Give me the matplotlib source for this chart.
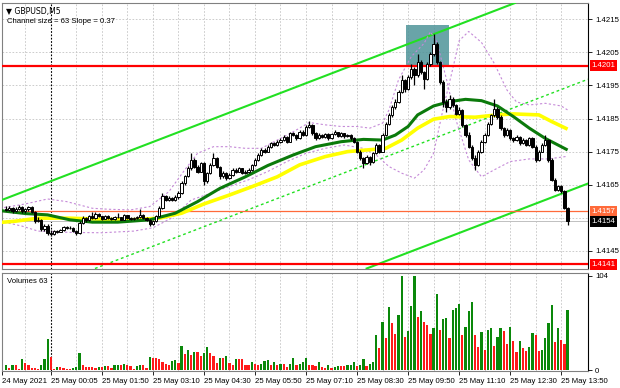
import numpy as np
import matplotlib
matplotlib.use('Agg')
import matplotlib.pyplot as plt
import matplotlib.transforms as mtransforms

plt.rcParams['font.family'] = ['Liberation Sans', 'DejaVu Sans']

# prices are kept in pips above 1.4100
BASE = 1.41

opens = [57.8, 57.5, 58.0, 57.0, 57.8, 58.2, 57.0, 57.6, 58.3, 56.8,
         54.0, 54.5, 51.5, 52.5, 50.5, 50.0, 51.0, 50.8, 51.2, 52.3,
         51.8, 52.0, 51.0, 50.5, 53.5, 55.0, 54.2, 55.6, 55.0, 56.3,
         55.5, 54.8, 55.5, 55.0, 54.6, 55.4, 55.2, 54.5, 55.8, 55.0,
         54.6, 55.0, 55.2, 56.0, 55.0, 54.5, 53.2, 54.0, 55.5, 58.0,
         61.5, 60.5, 61.0, 60.5, 61.2, 62.5, 65.5, 67.5, 70.0, 72.5,
         70.5, 69.0, 71.5, 66.0, 68.5, 71.0, 73.0, 70.5, 67.5, 68.5,
         67.0, 68.0, 69.5, 69.0, 70.0, 68.5, 69.0, 69.5, 71.0, 72.5,
         74.0, 75.5, 75.0, 76.5, 77.5, 77.0, 78.0, 78.5, 79.5, 78.0,
         80.5, 80.0, 79.0, 81.0, 80.0, 82.5, 83.0, 80.5, 79.0, 80.0,
         79.5, 80.2, 79.0, 80.3, 80.8, 79.8, 80.5, 79.6, 80.0, 79.0,
         78.0, 75.0, 73.0, 71.5, 73.5, 72.0, 74.5, 77.0, 75.0, 80.0,
         83.5, 86.0, 88.5, 90.0, 93.0, 96.5, 94.0, 97.5, 100.0, 98.0,
         102.0, 99.0, 97.0, 101.5, 104.5, 107.5, 102.0, 96.0, 90.0, 88.5,
         91.0, 89.0, 86.5, 87.5, 83.0, 80.0, 76.5, 73.0, 71.0, 75.0,
         78.0, 80.0, 83.5, 86.0, 88.0, 85.5, 82.0, 80.0, 81.5, 79.0,
         78.5, 79.5, 77.5, 78.5, 77.0, 79.0, 76.5, 72.5, 75.0, 77.0,
         78.5, 72.5, 66.5, 63.5, 64.5, 63.0, 58.0]
highs = [58.6, 58.6, 58.4, 58.2, 58.8, 58.5, 58.0, 58.7, 58.5, 57.2,
         55.2, 54.8, 53.0, 53.0, 51.2, 51.4, 51.3, 51.6, 52.6, 52.5,
         52.4, 52.2, 51.3, 54.0, 55.6, 55.3, 56.0, 56.8, 56.8, 56.5,
         55.7, 55.8, 55.9, 55.2, 55.6, 56.6, 55.4, 56.2, 56.0, 55.3,
         55.4, 55.6, 57.6, 56.2, 55.3, 54.7, 54.4, 55.8, 58.5, 62.5,
         62.0, 61.6, 61.4, 61.8, 63.0, 66.0, 68.0, 70.8, 74.5, 73.0,
         71.0, 72.0, 72.0, 69.0, 71.5, 74.5, 73.4, 70.8, 69.2, 68.8,
         68.5, 70.2, 70.0, 70.4, 70.2, 69.5, 70.0, 71.4, 73.0, 74.5,
         76.0, 76.0, 77.0, 78.0, 77.8, 78.4, 79.0, 80.0, 79.8, 81.0,
         81.0, 80.3, 81.6, 81.4, 83.0, 84.2, 83.3, 80.8, 80.5, 80.4,
         80.6, 80.5, 80.6, 81.4, 81.0, 80.8, 80.7, 80.4, 80.2, 79.3,
         78.2, 75.4, 73.5, 74.0, 73.8, 75.0, 77.6, 77.3, 80.5, 84.0,
         86.6, 89.0, 91.0, 93.6, 98.0, 97.0, 98.0, 101.5, 100.5, 104.5,
         102.6, 99.5, 102.0, 105.0, 110.5, 108.0, 102.5, 96.5, 91.0, 92.0,
         91.5, 89.5, 88.5, 88.0, 83.5, 81.0, 77.0, 74.0, 75.5, 78.5,
         80.6, 84.0, 86.5, 91.0, 88.4, 86.0, 82.4, 82.0, 81.8, 79.4,
         80.0, 79.8, 79.0, 78.8, 79.5, 79.3, 77.0, 75.5, 77.5, 80.0,
         78.8, 73.0, 67.0, 65.0, 65.0, 63.5, 58.4]
lows = [57.0, 57.2, 56.6, 56.8, 57.4, 56.5, 56.6, 57.2, 56.4, 53.5,
        53.6, 51.0, 51.0, 49.8, 49.5, 49.8, 50.4, 50.6, 51.0, 51.5,
        51.6, 50.6, 49.8, 50.2, 53.2, 53.8, 54.0, 54.8, 54.8, 55.2,
        54.5, 54.6, 54.8, 54.3, 54.4, 55.0, 54.2, 54.3, 54.8, 54.2,
        54.4, 54.6, 55.0, 54.8, 54.0, 52.6, 52.8, 53.8, 55.2, 57.8,
        60.0, 60.0, 60.0, 60.2, 60.8, 62.2, 65.0, 67.2, 69.6, 70.0,
        68.5, 68.8, 65.0, 65.6, 68.2, 70.6, 70.0, 66.8, 67.0, 66.5,
        66.8, 67.6, 68.6, 68.8, 68.2, 68.2, 68.6, 69.2, 70.8, 72.2,
        73.6, 74.6, 74.8, 76.2, 76.6, 76.8, 77.6, 78.2, 77.6, 77.8,
        79.6, 78.6, 78.8, 79.6, 79.8, 82.0, 80.0, 78.6, 78.8, 79.0,
        79.2, 78.6, 78.8, 80.0, 79.4, 79.5, 79.2, 79.3, 78.6, 77.5,
        74.6, 72.5, 70.0, 71.2, 71.0, 71.6, 74.2, 74.5, 74.8, 79.6,
        83.0, 85.6, 88.0, 89.6, 92.6, 93.0, 93.6, 97.0, 95.0, 97.6,
        98.5, 94.0, 96.6, 101.0, 104.0, 101.5, 95.5, 88.5, 87.0, 88.0,
        88.5, 86.0, 86.0, 82.5, 79.5, 76.0, 72.5, 69.5, 70.8, 74.6,
        77.6, 79.6, 83.0, 85.6, 85.0, 81.5, 79.5, 79.6, 78.5, 78.0,
        78.2, 77.0, 77.2, 76.6, 76.8, 76.0, 72.0, 72.2, 74.8, 76.6,
        72.0, 66.0, 63.0, 63.2, 62.5, 57.6, 52.8]
closes = [57.5, 58.0, 57.0, 57.8, 58.2, 57.0, 57.6, 58.3, 56.8, 54.0,
          54.5, 51.5, 52.5, 50.5, 50.0, 51.0, 50.8, 51.2, 52.3, 51.8,
          52.0, 51.0, 50.5, 53.5, 55.0, 54.2, 55.6, 55.0, 56.3, 55.5,
          54.8, 55.5, 55.0, 54.6, 55.4, 55.2, 54.5, 55.8, 55.0, 54.6,
          55.0, 55.2, 56.0, 55.0, 54.5, 53.2, 54.0, 55.5, 58.0, 61.5,
          60.5, 61.0, 60.5, 61.2, 62.5, 65.5, 67.5, 70.0, 72.5, 70.5,
          69.0, 71.5, 66.0, 68.5, 71.0, 73.0, 70.5, 67.5, 68.5, 67.0,
          68.0, 69.5, 69.0, 70.0, 68.5, 69.0, 69.5, 71.0, 72.5, 74.0,
          75.5, 75.0, 76.5, 77.5, 77.0, 78.0, 78.5, 79.5, 78.0, 80.5,
          80.0, 79.0, 81.0, 80.0, 82.5, 83.0, 80.5, 79.0, 80.0, 79.5,
          80.2, 79.0, 80.3, 80.8, 79.8, 80.5, 79.6, 80.0, 79.0, 78.0,
          75.0, 73.0, 71.5, 73.5, 72.0, 74.5, 77.0, 75.0, 80.0, 83.5,
          86.0, 88.5, 90.0, 93.0, 96.5, 94.0, 97.5, 100.0, 98.0, 102.0,
          99.0, 97.0, 101.5, 104.5, 107.5, 102.0, 96.0, 90.0, 88.5, 91.0,
          89.0, 86.5, 87.5, 83.0, 80.0, 76.5, 73.0, 71.0, 75.0, 78.0,
          80.0, 83.5, 86.0, 88.0, 85.5, 82.0, 80.0, 81.5, 79.0, 78.5,
          79.5, 77.5, 78.5, 77.0, 79.0, 76.5, 72.5, 75.0, 77.0, 78.5,
          72.5, 66.5, 63.5, 64.5, 63.0, 58.0, 54.0]

volumes = [5, 2, 5, 5, 1, 12, 8, 5, 2, 2, 1, 5, 12, 34, 14, 1, 3, 3, 2, 1,
           1, 2, 3, 19, 5, 3, 3, 3, 2, 3, 3, 4, 4, 2, 5, 6, 6, 7, 6, 4,
           1, 4, 5, 5, 2, 14, 13, 13, 12, 9, 7, 5, 10, 11, 8, 27, 18, 22, 17, 20,
           20, 16, 19, 25, 19, 16, 8, 13, 13, 16, 8, 6, 12, 12, 12, 6, 5, 9, 7, 5,
           7, 10, 11, 5, 9, 5, 7, 7, 3, 7, 13, 5, 7, 9, 13, 6, 5, 4, 9, 3,
           2, 5, 2, 3, 4, 4, 4, 5, 6, 9, 4, 6, 12, 4, 7, 9, 39, 24, 53,
           35, 70, 52, 40, 61, 104, 37, 43, 71, 104, 59, 65, 53, 50, 40, 47, 84, 44, 56,
           58, 35, 66, 69, 73, 39, 48, 65, 75, 39, 25, 42, 22, 44, 46, 27, 36, 46, 43,
           29, 48, 32, 20, 32, 24, 21, 25, 41, 39, 21, 22, 35, 52, 72, 31, 46, 33, 29, 66]

# moving averages, read at sample bars
green_ma_bars = [-2, 6, 13, 20, 27, 35, 45, 53, 60, 67, 75, 82, 90, 97, 105, 112,
                 118, 122, 126, 129, 134, 139, 144, 149, 154, 159, 164, 169, 176]
green_ma = [57.2, 56.3, 55.9, 54.4, 53.7, 53.7, 54.4, 56.4, 59.9, 63.9, 67.4, 70.8,
            74.0, 76.5, 78.0, 78.7, 78.5, 80.0, 82.6, 86.1, 88.8, 90.1, 90.8, 90.4,
            88.8, 85.6, 82.1, 79.0, 75.5]
yellow_ma_bars = [-2, 3, 10, 20, 29, 39, 48, 55, 62, 70, 77, 85, 92, 100, 107, 113,
                  119, 124, 129, 134, 139, 147, 154, 159, 167, 171, 176]
yellow_ma = [53.6, 54.0, 54.9, 54.9, 54.6, 54.4, 54.9, 56.4, 59.2, 61.9, 64.4, 67.4,
             71.0, 73.5, 75.0, 75.5, 76.0, 78.5, 82.1, 84.8, 85.6, 85.4, 86.1, 86.4,
             86.1, 84.1, 81.8]
band_a_bars = [-2, 6, 13, 19, 27, 32, 39, 45, 51, 56, 60, 65, 70, 75, 80, 85, 90, 95,
               100, 105, 110, 114, 118, 120, 123, 127, 131, 133, 135, 138, 141, 145,
               149, 153, 158, 164, 170, 176]
band_a = [57.9, 59.2, 60.7, 59.9, 57.9, 57.6, 57.4, 58.4, 62.9, 69.5, 74.5, 76.5,
          76.5, 76.0, 76.0, 78.5, 81.0, 83.8, 83.1, 82.6, 82.6, 82.1, 83.6, 87.6,
          96.7, 103.7, 107.7, 111.2, 108.2, 97.0, 84.6, 72.5, 67.4, 69.5, 72.0,
          72.8, 72.8, 73.6]
band_b_bars = [-2, 5, 10, 20, 30, 40, 46, 52, 58, 64, 70, 76, 82, 88, 94, 100, 106,
               112, 116, 120, 124, 128, 131, 134, 137, 140, 142, 145, 149, 153, 157,
               160, 164, 169, 174, 176]
band_b = [54.0, 52.5, 51.0, 50.6, 50.5, 51.0, 52.0, 55.0, 60.4, 62.4, 64.5, 66.5,
          69.0, 72.0, 74.5, 76.0, 77.0, 76.0, 74.0, 70.5, 68.5, 67.0, 69.5, 74.5,
          88.0, 100.0, 108.5, 111.3, 108.0, 101.7, 93.6, 90.0, 89.1, 89.6, 88.8, 87.6]

# regression channel: upper line at two bars, width in price
channel_bars = [0, 176]
channel_upper = [1.41609, 1.42260]
channel_size = 0.0063

red_levels = [1.4201, 1.4141]
orange_level = 1.4157
bid_price = 1.4154
zone_bars = [125.2, 138.9]
zone_prices = [1.4201, 1.42134]

price_ticks = [1.4145, 1.4155, 1.4165, 1.4175, 1.4185, 1.4195, 1.4205, 1.4215]
time_bars = [-1.3, 14, 30, 46, 62, 78, 94, 110, 126, 142, 158, 174]
time_labels = ['24 May 2021', '25 May 00:05', '25 May 01:50', '25 May 03:10',
               '25 May 04:30', '25 May 05:50', '25 May 07:10', '25 May 08:30',
               '25 May 09:50', '25 May 11:10', '25 May 12:30', '25 May 13:50']
day_break_bar = 14

o = BASE + np.array(opens) / 10000
h = BASE + np.array(highs) / 10000
l = BASE + np.array(lows) / 10000
c = BASE + np.array(closes) / 10000
v = np.array(volumes)
bars = np.arange(len(c))

fig = plt.figure(figsize=(6.2, 3.88), dpi=100)
W, H = 620, 388
ax = fig.add_axes([2 / W, 1 - 268.5 / H, 586 / W, 265.5 / H])
axv = fig.add_axes([2 / W, 1 - 371 / H, 586 / W, 98 / H])

xlim = (-1.3, 182.4)
grid_kw = dict(color='#c4c4c4', lw=0.6, ls=(0, (2, 2)), zorder=0)
for a in (ax, axv):
    a.set_xlim(*xlim)
    for b in range(6, len(c), 8):
        a.axvline(b, **grid_kw)
    a.axvline(day_break_bar, color='black', lw=0.8, ls=(0, (1.5, 1.5)), zorder=1)
    for s in a.spines.values():
        s.set_color('#808080')
        s.set_linewidth(0.8)
    a.spines['right'].set_color('black')
    a.tick_params(labelsize=5.6, length=3, width=0.6, pad=2, colors='black')

ax.set_ylim(1.41397, 1.42199)
for p in price_ticks:
    ax.axhline(p, **grid_kw)

# channel
p0 = (channel_bars[0], channel_upper[0])
p1 = (channel_bars[1], channel_upper[1])
ax.axline(p0, p1, color='#22e022', lw=1.5, zorder=3)
ax.axline((p0[0], p0[1] - channel_size), (p1[0], p1[1] - channel_size),
          color='#22e022', lw=1.5, zorder=3)
ax.axline((p0[0], p0[1] - channel_size / 2), (p1[0], p1[1] - channel_size / 2),
          color='#22e022', lw=1.0, ls=(0, (2, 2)), zorder=3)

# zone box
ax.fill_between(zone_bars, zone_prices[0], zone_prices[1], color='#4f9499',
                alpha=0.85, lw=0, zorder=2)

# horizontal levels
for p in red_levels:
    ax.axhline(p, color='#ff0000', lw=1.6, zorder=4)
ax.axhline(orange_level, color='#ff6a3a', lw=0.9, zorder=4)
ax.axhline(bid_price, color='#c0c0c0', lw=0.7, zorder=1)

# bands and moving averages
to_price = lambda arr: BASE + np.array(arr) / 10000
ax.plot(band_a_bars, to_price(band_a), color='#c58ad8', lw=0.8, ls=(0, (2, 2)), zorder=3)
ax.plot(band_b_bars, to_price(band_b), color='#c58ad8', lw=0.8, ls=(0, (2, 2)), zorder=3)
ax.plot(yellow_ma_bars, to_price(yellow_ma), color='#ffff00', lw=2.6, zorder=4,
        solid_capstyle='butt')
ax.plot(green_ma_bars, to_price(green_ma), color='#0b7a0b', lw=2.2, zorder=5,
        solid_capstyle='butt')

# candles
up = c >= o
ax.vlines(bars, l, h, color='black', lw=0.9, zorder=6)
body_lo = np.minimum(o, c)
body_h = np.maximum(np.abs(c - o), 0.00002)
ax.bar(bars, body_h, bottom=body_lo, width=0.72,
       color=np.where(up, 'white', 'black'), edgecolor='black', lw=0.7, zorder=7)

# price axis
shown = [p for p in price_ticks if abs(p - 1.4155) > 1e-6]
ax.yaxis.tick_right()
ax.set_yticks(shown)
ax.set_yticklabels([f'{p:.4f}' for p in shown])
ax.set_xticks([])

lab = mtransforms.blended_transform_factory(ax.transAxes, ax.transData)
for p, fc, tc in [(red_levels[0], '#ff0000', 'white'), (red_levels[1], '#ff0000', 'white'),
                  (orange_level, '#ff6a3a', 'white'), (bid_price, 'black', 'white')]:
    ax.text(1.006, p, f'{p:.4f}', transform=lab, ha='left', va='center',
            fontsize=5.6, color=tc, clip_on=False, zorder=10,
            bbox=dict(boxstyle='square,pad=0.25', fc=fc, ec='none'))

ax.text(0.006, 0.985, '\u25bc GBPUSD,M5', transform=ax.transAxes, fontsize=5.6,
        va='top', ha='left', family=['DejaVu Sans'])
ax.text(0.009, 0.945, 'Channel size = 63 Slope = 0.37', transform=ax.transAxes,
        fontsize=5.6, va='top', ha='left')

# volumes
vol_up = np.concatenate([[True], v[1:] > v[:-1]])
axv.bar(bars, v, width=0.7, color=np.where(vol_up, '#0a880a', '#ff1a1a'), zorder=3)
axv.set_ylim(-1.1, 107.3)
axv.yaxis.tick_right()
axv.set_yticks([0, 104])
axv.set_yticklabels(['0', '104'])
axv.set_xticks(time_bars)
axv.set_xticklabels(time_labels, ha='left')
axv.text(0.008, 0.95, 'Volumes 63', transform=axv.transAxes, fontsize=5.6,
         va='top', ha='left')

fig.savefig('out.png', dpi=100, facecolor='white')
